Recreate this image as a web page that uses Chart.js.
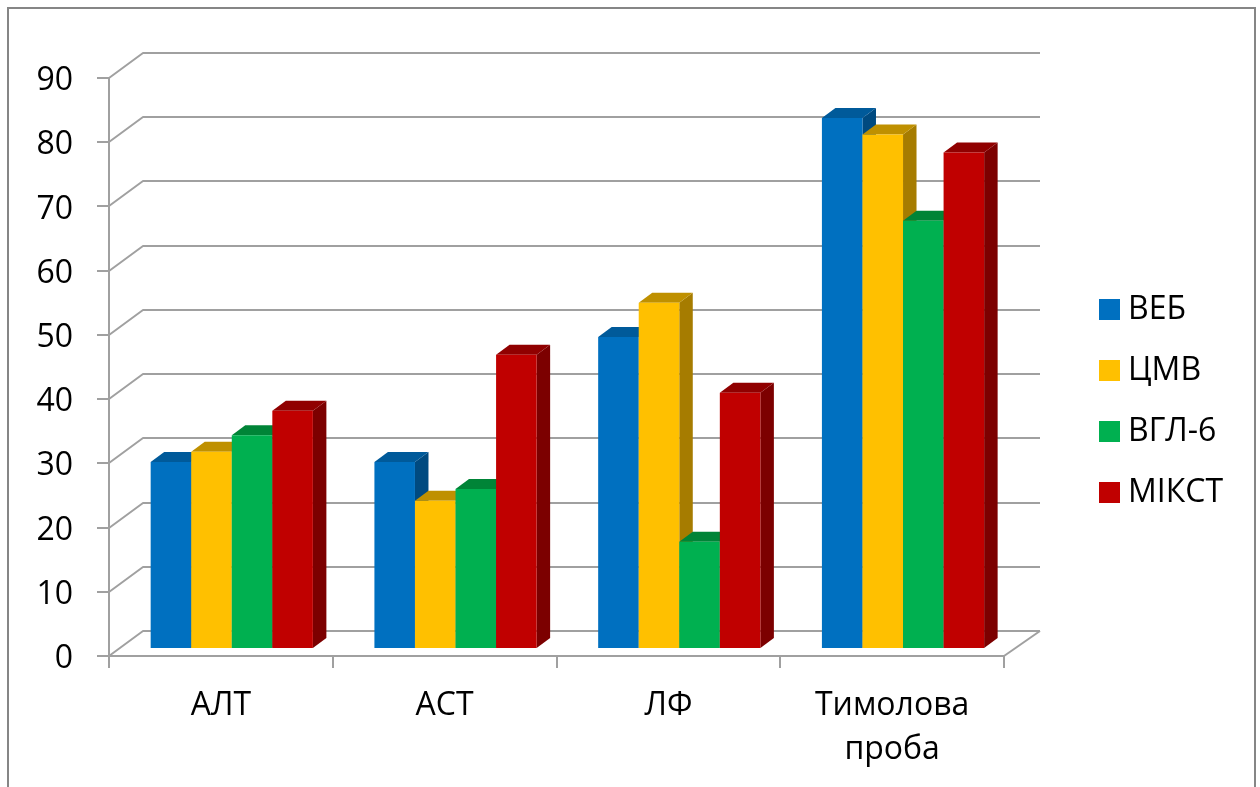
<!DOCTYPE html>
<html>
<head>
<meta charset="utf-8">
<style>
  html, body { margin: 0; padding: 0; background: #fff; }
  canvas { display: block; }
</style>
<script src="https://cdn.jsdelivr.net/npm/chart.js@4/dist/chart.umd.min.js"></script>
</head>
<body>
<canvas id="chart" width="1260" height="787"></canvas>
<script>
// Laboratory indicators by infection group
const categories = ['АЛТ', 'АСТ', 'ЛФ', ['Тимолова', 'проба']];
const seriesNames = ['ВЕБ', 'ЦМВ', 'ВГЛ-6', 'МІКСТ'];
const vebValues = [29.1, 29.1, 48.6, 82.7];
const cmvValues = [30.7, 23.1, 53.9, 80.1];
const hhv6Values = [33.3, 24.9, 16.7, 66.7];
const mixedValues = [37.1, 45.8, 39.9, 77.3];
const frontColors = ['#0070C0', '#FFC000', '#00B050', '#C00000'];
const topColors = ['#005A9A', '#BF9000', '#008437', '#900000'];
const sideColors = ['#004A80', '#A67C00', '#00733A', '#7C0000'];

const axisColor = '#A0A0A0';
const fontFamily = '"Open Sans", Lato, sans-serif';

// Perspective offsets of the pseudo-3D box
const wallDx = 34, wallDy = -25;     // front plane to back wall
const planeDx = 10.9, planeDy = -7;  // front plane to the bars' front faces
const barDx = 13.5, barDy = -10;     // depth of a single bar

const poly = (ctx, pts, fill) => {
  ctx.beginPath();
  pts.forEach(([x, y], i) => i ? ctx.lineTo(x, y) : ctx.moveTo(x, y));
  ctx.closePath();
  ctx.fillStyle = fill;
  ctx.fill();
};

const box3d = {
  id: 'box3d',
  beforeDraw(chart) {
    const ctx = chart.ctx;
    ctx.save();
    ctx.strokeStyle = '#868686';
    ctx.lineWidth = 2;
    ctx.beginPath();
    ctx.moveTo(8, 787);
    ctx.lineTo(8, 8);
    ctx.lineTo(1255, 8);
    ctx.lineTo(1255, 787);
    ctx.stroke();
    ctx.restore();
  },
  afterLayout(chart) {
    // The legend sits in the free strip right of the plot
    const lg = chart.legend;
    lg.left = 1107 - lg.options.labels.padding;
    lg.right = 1260;
    lg.width = lg.right - lg.left;
    lg.top = 264.5;
    lg.bottom = 787;
    lg.height = lg.bottom - lg.top;
  },
  beforeDatasetsDraw(chart) {
    const ctx = chart.ctx;
    const { left, right } = chart.chartArea;
    const yScale = chart.scales.y;

    // Side wall and back wall rulings
    ctx.save();
    ctx.strokeStyle = axisColor;
    ctx.lineWidth = 2;
    ctx.lineJoin = 'round';
    yScale.ticks.forEach(t => {
      const y = Math.round(yScale.getPixelForValue(t.value));
      ctx.beginPath();
      ctx.moveTo(left, y);
      ctx.lineTo(left + wallDx, y + wallDy);
      ctx.lineTo(right + wallDx + 2, y + wallDy);
      ctx.stroke();
    });
    // Right edge of the floor
    const y0 = Math.round(yScale.getPixelForValue(0));
    ctx.beginPath();
    ctx.moveTo(right, y0);
    ctx.lineTo(right + wallDx + 2, y0 + wallDy);
    ctx.stroke();
    ctx.restore();

    // Bars left to right so that each front face covers its neighbour's side
    ctx.save();
    ctx.translate(planeDx, planeDy);
    categories.forEach((_, i) => {
      seriesNames.forEach((__, d) => {
        const el = chart.getDatasetMeta(d).data[i];
        const half = el.width / 2;
        const x0 = el.x - half, x1 = el.x + half, yt = el.y, yb = el.base;
        poly(ctx, [[x1, yt], [x1 + barDx, yt + barDy], [x1 + barDx, yb + barDy], [x1, yb]], sideColors[d]);
        poly(ctx, [[x0, yt], [x0 + barDx, yt + barDy], [x1 + barDx, yt + barDy], [x1, yt]], topColors[d]);
        el.draw(ctx);
      });
    });
    ctx.restore();
    return false;
  }
};

const seriesValues = [vebValues, cmvValues, hhv6Values, mixedValues];

new Chart(document.getElementById('chart'), {
  type: 'bar',
  data: {
    labels: categories,
    datasets: seriesNames.map((name, d) => ({
      label: name,
      data: seriesValues[d],
      backgroundColor: frontColors[d],
      borderWidth: 0,
      categoryPercentage: 0.725,
      barPercentage: 1
    }))
  },
  plugins: [box3d],
  options: {
    responsive: false,
    animation: false,
    layout: { padding: { left: 0, top: 78, right: 256, bottom: 0 } },
    plugins: {
      title: { display: false },
      tooltip: { enabled: false },
      legend: {
        position: 'chartArea',
        align: 'start',
        labels: {
          // A small swatch with a heavy outline keeps the label close to the key
          boxWidth: 5,
          boxHeight: 5,
          padding: 29,
          color: '#000',
          font: { family: fontFamily, size: 32 },
          generateLabels(chart) {
            return Chart.defaults.plugins.legend.labels.generateLabels(chart).map((item, d) => ({
              ...item,
              fillStyle: frontColors[d],
              strokeStyle: frontColors[d],
              lineWidth: 16,
              lineJoin: 'miter'
            }));
          }
        }
      }
    },
    scales: {
      x: {
        afterFit(s) { s.height = 131; },
        border: { color: axisColor, width: 2 },
        grid: { drawOnChartArea: false, drawTicks: true, tickLength: 12, color: axisColor, lineWidth: 2 },
        ticks: {
          color: '#000',
          autoSkip: false,
          maxRotation: 0,
          padding: 15,
          font: { family: fontFamily, size: 32, lineHeight: 1.4 }
        }
      },
      y: {
        min: 0,
        max: 90,
        afterFit(s) { s.width = 109; },
        border: { color: axisColor, width: 2 },
        grid: { drawOnChartArea: false, drawTicks: true, tickLength: 12, color: axisColor, lineWidth: 2 },
        ticks: {
          stepSize: 10,
          color: '#000',
          padding: 24,
          labelOffset: 3,
          font: { family: fontFamily, size: 32 }
        }
      }
    }
  }
});
</script>
</body>
</html>
